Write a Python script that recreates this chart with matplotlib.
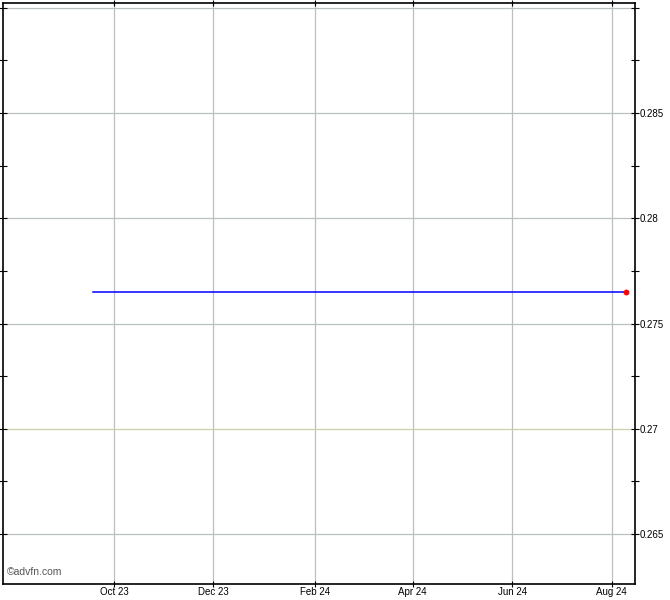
import matplotlib
matplotlib.use("Agg")
import matplotlib.pyplot as plt
import numpy as np
import datetime as dt

plt.rcParams['font.family'] = ['Liberation Sans', 'DejaVu Sans']

# Data
dates = ['2023-09-18', '2024-08-10']
prices = [0.2765, 0.2765]
tick_dates = ['2023-10-01', '2023-12-01', '2024-02-01', '2024-04-01', '2024-06-01', '2024-08-01']
tick_labels = ['Oct 23', 'Dec 23', 'Feb 24', 'Apr 24', 'Jun 24', 'Aug 24']
y_ticks = [0.265, 0.27, 0.275, 0.28, 0.285, 0.29]
y_labels = ['0.265', '0.27', '0.275', '0.28', '0.285', '']

x = [dt.datetime.fromisoformat(d) for d in dates]
xt = [dt.datetime.fromisoformat(d) for d in tick_dates]

fig = plt.figure(figsize=(6.7, 6.0), dpi=100)
ax = fig.add_axes([3/670, 16/600, 632/670, 581/600])

ax.plot(x, prices, color='#0000ff', lw=1.1, zorder=3)
ax.plot([x[-1]], [prices[-1]], 'o', color='#ff0000', ms=3.2, zorder=4)

ax.set_xlim(dt.datetime(2023, 7, 25), dt.datetime(2024, 8, 15, 8))
ax.set_ylim(0.262625, 0.290226)

ax.set_xticks(xt)
ax.set_xticklabels(tick_labels, fontsize=7)
ax.set_yticks(y_ticks)
ax.set_yticklabels(y_labels, fontsize=7)
ax.set_yticks(np.array(y_ticks[:-1]) + 0.0025, minor=True)

ax.yaxis.tick_right()
ax.tick_params(axis='y', which='both', direction='inout', length=6, width=0.8, pad=0,
               right=True, left=True)
ax.tick_params(axis='x', which='both', direction='inout', length=5, width=0.8, pad=0,
               top=True, bottom=True)

ax.grid(True, which='major', color='#b8c0c0', lw=0.9, ls='-')
for gl, yv in zip(ax.get_ygridlines(), y_ticks):
    if abs(yv - 0.27) < 1e-9:
        gl.set_color('#ccd0a8')

for s in ax.spines.values():
    s.set_linewidth(1.2)
    s.set_color('black')

ax.text(4/632, 7/581, '©advfn.com', transform=ax.transAxes, fontsize=7.5,
        color='#555555', ha='left', va='bottom')

fig.savefig('out.png', dpi=100)
